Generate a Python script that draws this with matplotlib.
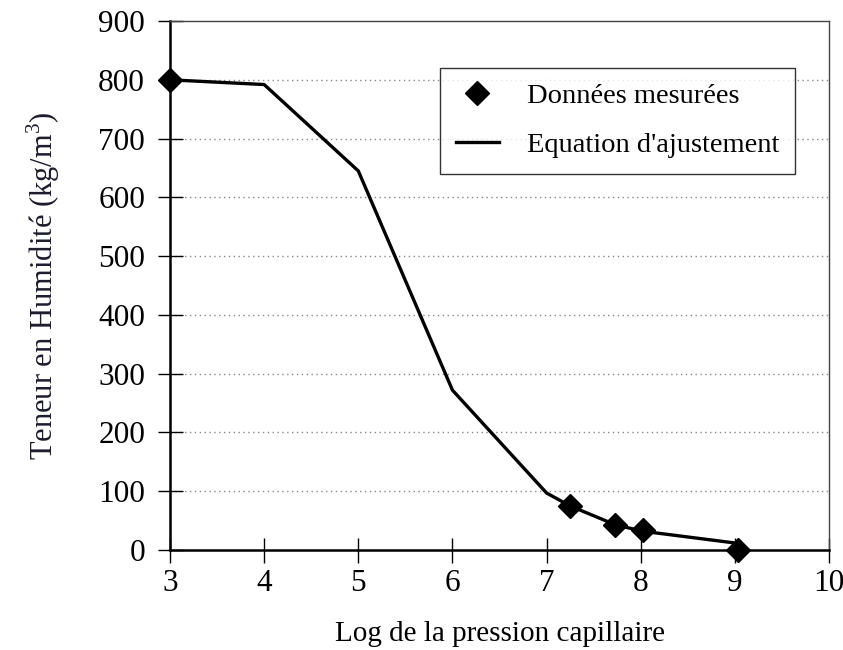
import matplotlib
matplotlib.use("Agg")
import matplotlib.pyplot as plt

# measured points (diamonds)
meas_x = [3.0, 7.25, 7.73, 8.02, 9.03]
meas_y = [800, 75, 43, 34, 0]

# fitted curve (piecewise line)
fit_x = [3.0, 4.0, 5.0, 6.0, 7.0, 7.25, 7.73, 8.02, 9.0]
fit_y = [800, 792, 645, 272, 97, 75, 43, 32, 12]

x_ticks = [3, 4, 5, 6, 7, 8, 9, 10]
y_ticks = [0, 100, 200, 300, 400, 500, 600, 700, 800, 900]

plt.rcParams["font.family"] = ["Liberation Serif", "DejaVu Serif"]
plt.rcParams["mathtext.fontset"] = "custom"
plt.rcParams["mathtext.rm"] = "Liberation Serif"

fig = plt.figure(figsize=(8.43, 6.5), dpi=100)
ax = fig.add_axes([0.2017, 0.1538, 0.7817, 0.8138])

ax.plot(fit_x, fit_y, color="black", lw=2.4, label="Equation d'ajustement", zorder=3)
ax.plot(meas_x, meas_y, linestyle="none", marker="D", ms=12.5, color="black",
        label="Données mesurées", zorder=4, clip_on=False)

ax.set_xlim(3, 10)
ax.set_ylim(0, 900)
ax.set_xticks(x_ticks)
ax.set_yticks(y_ticks)
ax.tick_params(direction="inout", length=18, width=1.0, labelsize=22.5, pad=5)
ax.tick_params(axis="y", pad=9)

for v in y_ticks[1:-1]:
    ax.axhline(v, color="#888888", lw=1.0, ls=(0, (1, 2.5)), zorder=1)

for side in ("left", "bottom"):
    ax.spines[side].set_linewidth(1.8)
for side in ("top", "right"):
    ax.spines[side].set_linewidth(1.0)
    ax.spines[side].set_color("#444444")

ax.set_xlabel("Log de la pression capillaire", fontsize=21, labelpad=16)
ax.set_ylabel("Teneur en Humidité (kg/m$^{3}$)", fontsize=22, labelpad=26, color="#1c1c2c")

handles, labels = ax.get_legend_handles_labels()
leg = ax.legend(handles[::-1], labels[::-1], loc="upper left", bbox_to_anchor=(0.41, 0.912),
                fontsize=20.5, frameon=True, fancybox=False, edgecolor="black",
                handlelength=1.5, borderpad=0.55, labelspacing=0.8, handletextpad=1.0,
                borderaxespad=0)
leg.get_frame().set_linewidth(1.0)

fig.savefig("out.png", dpi=100)
